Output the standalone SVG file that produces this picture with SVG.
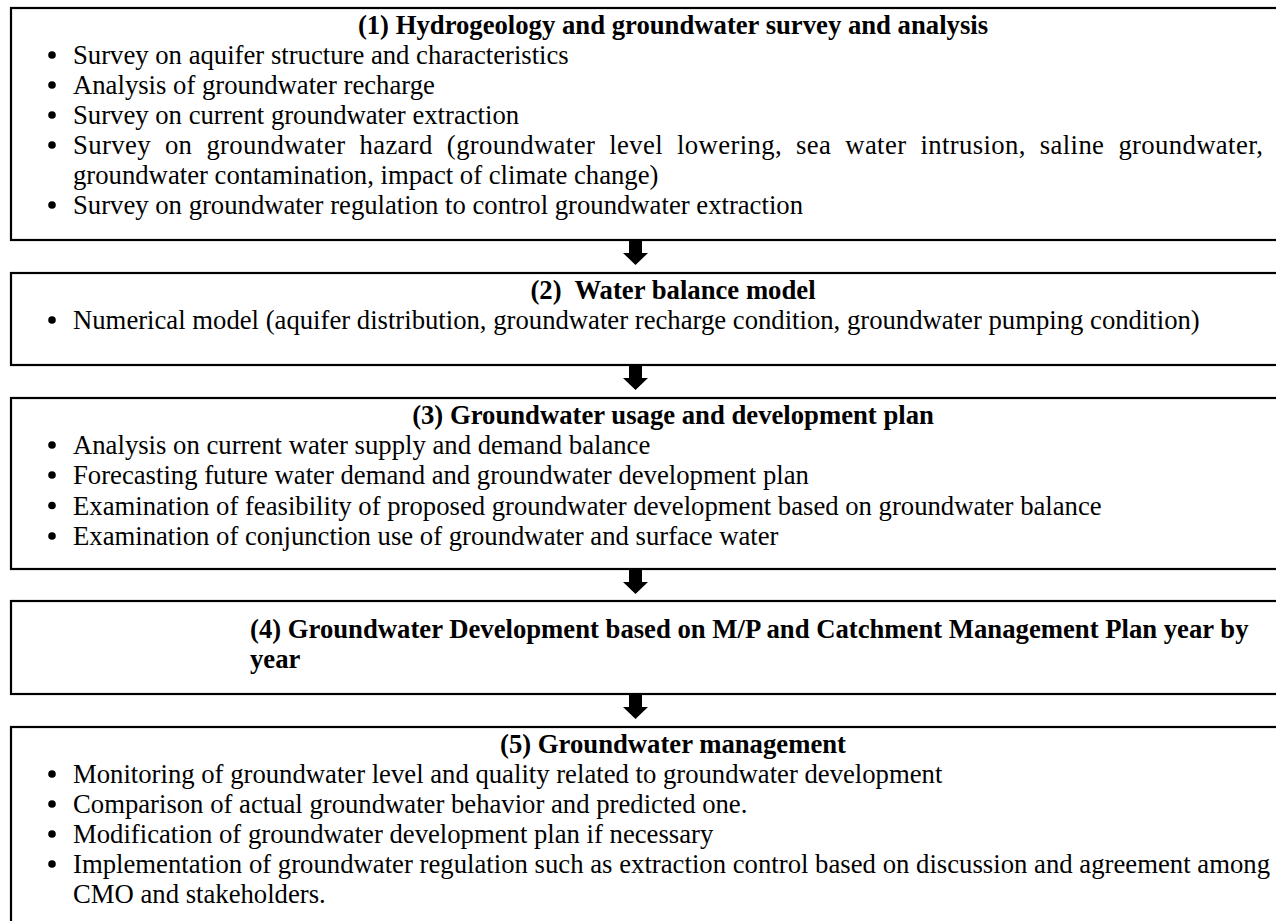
<svg xmlns="http://www.w3.org/2000/svg" width="1276" height="921" viewBox="0 0 1276 921">
<style>
.box{fill:#fff;stroke:#000;stroke-width:2.2}
.t{font-family:"Liberation Serif","Times New Roman",serif;font-size:26.7px;fill:#000}
.h{font-weight:bold;text-anchor:middle}
.b{font-weight:bold}
.dot{fill:#000}
.arr{fill:#000}
</style>
<rect width="1276" height="921" fill="#fff"/>
<g id="node1">
<rect class="box" x="11" y="8" width="1340" height="232"/>
<text class="t h" x="673" y="34">(1) Hydrogeology and groundwater survey and analysis</text>
<circle class="dot" cx="52" cy="55" r="3.8"/><text class="t" x="73" y="64">Survey on aquifer structure and characteristics</text>
<circle class="dot" cx="52" cy="85" r="3.8"/><text class="t" x="73" y="94">Analysis of groundwater recharge</text>
<circle class="dot" cx="52" cy="115" r="3.8"/><text class="t" x="73" y="124">Survey on current groundwater extraction</text>
<circle class="dot" cx="52" cy="145" r="3.8"/><text class="t" x="73" y="154" word-spacing="7" textLength="1190" lengthAdjust="spacing">Survey on groundwater hazard (groundwater level lowering, sea water intrusion, saline groundwater,</text>
<text class="t" x="73" y="184">groundwater contamination, impact of climate change)</text>
<circle class="dot" cx="52" cy="205" r="3.8"/><text class="t" x="73" y="214">Survey on groundwater regulation to control groundwater extraction</text>
</g>
<g id="node2">
<rect class="box" x="11" y="273" width="1340" height="92"/>
<text class="t h" x="673" y="299">(2)&#160; Water balance model</text>
<circle class="dot" cx="52" cy="320" r="3.8"/><text class="t" x="73" y="329">Numerical model (aquifer distribution, groundwater recharge condition, groundwater pumping condition)</text>
</g>
<g id="node3">
<rect class="box" x="11" y="398" width="1340" height="171"/>
<text class="t h" x="673" y="424">(3) Groundwater usage and development plan</text>
<circle class="dot" cx="52" cy="445" r="3.8"/><text class="t" x="73" y="454">Analysis on current water supply and demand balance</text>
<circle class="dot" cx="52" cy="475" r="3.8"/><text class="t" x="73" y="484">Forecasting future water demand and groundwater development plan</text>
<circle class="dot" cx="52" cy="505.5" r="3.8"/><text class="t" x="73" y="514.5">Examination of feasibility of proposed groundwater development based on groundwater balance</text>
<circle class="dot" cx="52" cy="536" r="3.8"/><text class="t" x="73" y="545">Examination of conjunction use of groundwater and surface water</text>
</g>
<g id="node4">
<rect class="box" x="11" y="601" width="1340" height="93"/>
<text class="t b" x="250" y="638">(4) Groundwater Development based on M/P and Catchment Management Plan year by</text>
<text class="t b" x="250" y="668">year</text>
</g>
<g id="node5">
<rect class="box" x="11" y="727" width="1340" height="240"/>
<text class="t h" x="673" y="753">(5) Groundwater management</text>
<circle class="dot" cx="52" cy="774" r="3.8"/><text class="t" x="73" y="783">Monitoring of groundwater level and quality related to groundwater development</text>
<circle class="dot" cx="52" cy="804" r="3.8"/><text class="t" x="73" y="813">Comparison of actual groundwater behavior and predicted one.</text>
<circle class="dot" cx="52" cy="834" r="3.8"/><text class="t" x="73" y="843">Modification of groundwater development plan if necessary</text>
<circle class="dot" cx="52" cy="864" r="3.8"/><text class="t" x="73" y="873" textLength="1197" lengthAdjust="spacing">Implementation of groundwater regulation such as extraction control based on discussion and agreement among</text>
<text class="t" x="73" y="903">CMO and stakeholders.</text>
</g>
<g id="connectors">
<polygon class="arr" points="629,241 642,241 642,253 648,253 635.5,265 623,253 629,253"/>
<polygon class="arr" points="629,366 642,366 642,378 648,378 635.5,390 623,378 629,378"/>
<polygon class="arr" points="629,570 642,570 642,582 648,582 635.5,594 623,582 629,582"/>
<polygon class="arr" points="629,695 642,695 642,707 648,707 635.5,719 623,707 629,707"/>
</g>
</svg>
